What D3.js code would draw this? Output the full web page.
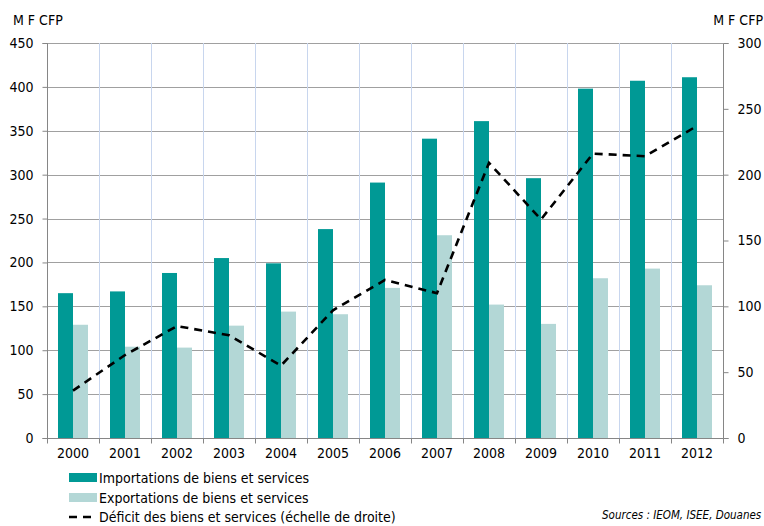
<!DOCTYPE html>
<html>
<head>
<meta charset="utf-8">
<script src="https://cdn.jsdelivr.net/npm/d3@7"></script>
<style>
  html, body { margin: 0; padding: 0; background: #fff; }
  svg { display: block; font-family: "DejaVu Sans Condensed", "DejaVu Sans", sans-serif; }
</style>
</head>
<body>
<svg id="chart" width="764" height="526"></svg>
<script>
// Échanges extérieurs, en millions de F CFP
const years = ["2000","2001","2002","2003","2004","2005","2006","2007","2008","2009","2010","2011","2012"];
const importations = [165, 167, 188, 205, 199, 238, 291, 341, 361, 296, 398, 407, 411];
const exportations = [129, 104, 103, 128, 144, 141, 171, 231, 152, 130, 182, 193, 174];
const deficit = [36, 63, 85, 78, 55, 97, 120, 110, 209, 166, 216, 214, 237];
const leftTicks = [0, 50, 100, 150, 200, 250, 300, 350, 400, 450];
const rightTicks = [0, 50, 100, 150, 200, 250, 300];
const legendLabels = [
  "Importations de biens et services",
  "Exportations de biens et services",
  "Déficit des biens et services (échelle de droite)"
];

const colImp = "#009995";
const colExp = "#b3d7d6";
const gridCol = "#a0a0a0";
const vgridCol = "#c8d6ee";
const axisCol = "#868686";
const fontSize = 14;

const svg = d3.select("#chart");
const m = { left: 47, right: 723, top: 43, bottom: 438 };

const x = d3.scaleBand().domain(years).range([m.left, m.right]).padding(0);
const yL = d3.scaleLinear().domain([0, 450]).range([m.bottom, m.top]);
const yR = d3.scaleLinear().domain([0, 300]).range([m.bottom, m.top]);

const barW = 15;
const g = svg.append("g");

// horizontal gridlines (left scale)
g.append("g").selectAll("line").data(leftTicks.filter(d => d > 0)).join("line")
  .attr("x1", m.left).attr("x2", m.right)
  .attr("y1", d => Math.round(yL(d)) + 0.5).attr("y2", d => Math.round(yL(d)) + 0.5)
  .attr("stroke", gridCol).attr("stroke-width", 1);

// vertical gridlines at category boundaries
const bounds = years.slice(1).map(y => x(y));
g.append("g").selectAll("line").data(bounds).join("line")
  .attr("x1", d => Math.round(d) + 0.5).attr("x2", d => Math.round(d) + 0.5)
  .attr("y1", m.top).attr("y2", m.bottom)
  .attr("stroke", vgridCol).attr("stroke-width", 1);

// bars
const bars = g.append("g");
bars.selectAll("rect.imp").data(years).join("rect").attr("class", "imp")
  .attr("x", d => x(d) + x.bandwidth() / 2 - barW)
  .attr("width", barW)
  .attr("y", (d, i) => yL(importations[i]))
  .attr("height", (d, i) => yL(0) - yL(importations[i]))
  .attr("fill", colImp);
bars.selectAll("rect.exp").data(years).join("rect").attr("class", "exp")
  .attr("x", d => x(d) + x.bandwidth() / 2)
  .attr("width", barW)
  .attr("y", (d, i) => yL(exportations[i]))
  .attr("height", (d, i) => yL(0) - yL(exportations[i]))
  .attr("fill", colExp);

// deficit line on the right scale
const line = d3.line()
  .x((d, i) => x(years[i]) + x.bandwidth() / 2)
  .y(d => yR(d));
g.append("path").datum(deficit)
  .attr("d", line)
  .attr("fill", "none")
  .attr("stroke", "#000")
  .attr("stroke-width", 2.6)
  .attr("stroke-dasharray", "8,6");

// axes
const leftAxis = d3.axisLeft(yL).tickValues(leftTicks).tickSize(5).tickPadding(9);
const la = svg.append("g").attr("transform", `translate(${m.left + 0.5},0)`).call(leftAxis);
const rightAxis = d3.axisRight(yR).tickValues(rightTicks).tickSize(5).tickPadding(9);
const ra = svg.append("g").attr("transform", `translate(${m.right + 0.5},0)`).call(rightAxis);
const bottomAxis = d3.axisBottom(x).tickSize(0).tickPadding(10);
const ba = svg.append("g").attr("transform", `translate(0,${m.bottom + 0.5})`).call(bottomAxis);

[la, ra, ba].forEach(a => {
  a.select(".domain").attr("stroke", axisCol);
  a.selectAll(".tick line").attr("stroke", axisCol);
  a.selectAll("text").attr("fill", "#000").style("font-size", fontSize + "px")
    .style("font-family", "'DejaVu Sans Condensed', 'DejaVu Sans', sans-serif");
});
la.select(".domain").attr("d", `M-5,${m.top + 0.5}H0V${m.bottom + 0.5}H-5`);
ra.select(".domain").attr("d", `M5,${m.top + 0.5}H0V${m.bottom + 0.5}H5`);
ba.select(".domain").attr("d", `M${m.left},0H${m.right + 0.5}`);

// category boundary ticks under the x axis
ba.append("g").selectAll("line").data([m.left, ...bounds, m.right]).join("line")
  .attr("x1", d => Math.round(d) + 0.5).attr("x2", d => Math.round(d) + 0.5)
  .attr("y1", 0).attr("y2", 5)
  .attr("stroke", axisCol);

// unit labels
svg.append("text").attr("x", 13).attr("y", 25).text("M F CFP")
  .style("font-size", fontSize + "px").attr("fill", "#000");
svg.append("text").attr("x", 763).attr("y", 25).attr("text-anchor", "end").text("M F CFP")
  .style("font-size", fontSize + "px").attr("fill", "#000");

// legend
const lg = svg.append("g");
const rowsY = [478, 498, 517];
lg.append("rect").attr("x", 69).attr("y", rowsY[0] - 5).attr("width", 28).attr("height", 9).attr("fill", colImp);
lg.append("rect").attr("x", 69).attr("y", rowsY[1] - 5).attr("width", 28).attr("height", 9).attr("fill", colExp);
lg.append("line").attr("x1", 69).attr("x2", 95).attr("y1", rowsY[2]).attr("y2", rowsY[2])
  .attr("stroke", "#000").attr("stroke-width", 2.6).attr("stroke-dasharray", "8,6");
lg.selectAll("text").data(legendLabels).join("text")
  .attr("x", 99).attr("y", (d, i) => rowsY[i] + 4.5)
  .style("font-size", fontSize + "px").attr("fill", "#000")
  .text(d => d);

// sources
svg.append("text").attr("x", 602).attr("y", 519)
  .style("font-size", "11.5px").style("font-style", "italic").attr("fill", "#000")
  .text("Sources : IEOM, ISEE, Douanes");
</script>
</body>
</html>
